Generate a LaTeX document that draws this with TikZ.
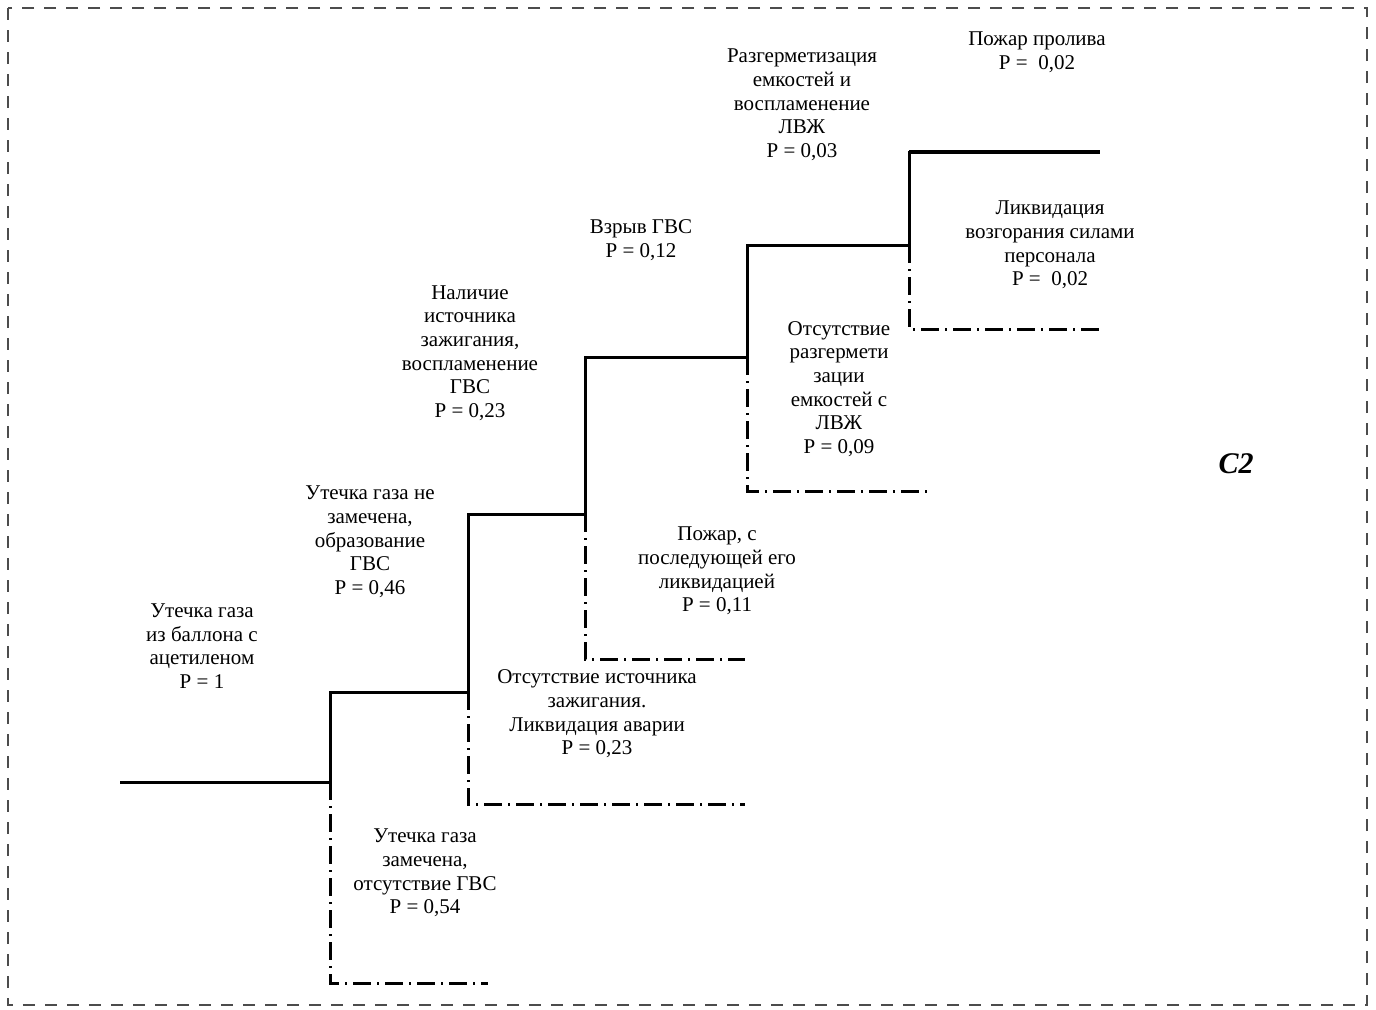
\documentclass[tikz,border=0pt]{standalone}
\usepackage{fontspec}
\setmainfont{Liberation Serif}
\tikzstyle{event} = [align=center, inner sep=0pt, font=\fontsize{10.5}{11.85}\selectfont]
\tikzstyle{yes} = [draw, line width=1.5pt]
\tikzstyle{no} = [draw, line width=1.5pt, dash pattern=on 9pt off 3pt on 1pt off 3pt]
\tikzstyle{frame} = [draw=black!70, line width=0.7pt, dash pattern=on 6pt off 5pt]
\usetikzlibrary{positioning}

\begin{document}
\begin{tikzpicture}[x=0.5pt, y=-0.5pt]
		\useasboundingbox (0,0) rectangle (1376,1009);
		\draw[frame] (8,8) rectangle (1367,1005);

		% branch points
		\coordinate (s0) at (120,782);
		\coordinate (b1) at (330,782);
		\coordinate (b2) at (468,692);
		\coordinate (b3) at (585,514);
		\coordinate (b4) at (747,357);
		\coordinate (b5) at (909,245);
		\coordinate (e6) at (1100,152);
		\coordinate (n1) at (488,983);
		\coordinate (n2) at (745,804);
		\coordinate (n3) at (745,659);
		\coordinate (n4) at (933,491);
		\coordinate (n5) at (1103,329);

		\node[event] (leak) at (202,646) {Утечка газа\\из баллона с\\ацетиленом\\P = 1};
		\node[event] (gvs) at (370,542) {Утечка газа не\\замечена,\\образование\\ГВС\\P = 0,46};
		\node[event] (ign) at (470,353) {Наличие\\источника\\зажигания,\\воспламенение\\ГВС\\P = 0,23};
		\node[event] (expl) at (641,240) {Взрыв ГВС\\P = 0,12};
		\node[event] (lvz) at (802,105) {Разгерметизация\\емкостей и\\воспламенение\\ЛВЖ\\P = 0,03};
		\node[event] (spill) at (1037,52) {Пожар пролива\\P = ~0,02};
		\node[event] (staff) at (1050,245) {Ликвидация\\возгорания силами\\персонала\\P = ~0,02};
		\node[event] (nolvz) at (839,389) {Отсутствие\\разгермети\\зации\\емкостей с\\ЛВЖ\\P = 0,09};
		\node[event] (fire) at (717,571) {Пожар, с\\последующей его\\ликвидацией\\P = 0,11};
		\node[event] (noign) at (597,714) {Отсутствие источника\\зажигания.\\Ликвидация аварии\\P = 0,23};
		\node[event] (seen) at (425,873) {Утечка газа\\замечена,\\отсутствие ГВС\\P = 0,54};
		\node[font=\fontsize{15}{18}\selectfont\bfseries\itshape] (c2) at (1236,464) {C2};

		\path[yes] (s0) -- (b1) |- (b2) |- (b3) |- (b4) |- (b5) |- (e6);
		\path[yes, line width=2.3pt] (b5 |- e6) -- (e6);
		\path[no] (b1) |- (n1);
		\path[no] (b2) |- (n2);
		\path[no] (b3) |- (n3);
		\path[no] (b4) |- (n4);
		\path[no] (b5) |- (n5);
	\end{tikzpicture}
\end{document}
